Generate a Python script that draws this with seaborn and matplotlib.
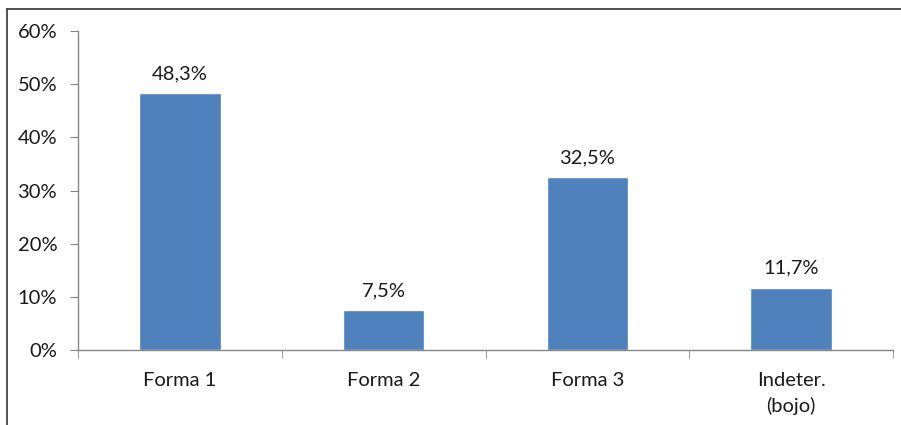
import matplotlib
matplotlib.use("Agg")
import matplotlib.pyplot as plt
import seaborn as sns
import pandas as pd
from matplotlib.lines import Line2D
from matplotlib.ticker import FuncFormatter, MultipleLocator

categories = ["Forma 1", "Forma 2", "Forma 3", "Indeter.\n(bojo)"]
values = [48.3, 7.5, 32.5, 11.7]
labels = ["48,3%", "7,5%", "32,5%", "11,7%"]

df = pd.DataFrame({"cat": categories, "val": values})

sns.set_style("white")
plt.rcParams["font.family"] = ["Lato", "DejaVu Sans"]

fig = plt.figure(figsize=(9.01, 4.25), dpi=100)
ax = fig.add_axes([78 / 901, 1 - 350 / 425, (893 - 78) / 901, (350 - 31) / 425])

sns.barplot(data=df, x="cat", y="val", color="#4F81BD", width=0.4,
            saturation=1, ax=ax)

axis_col = "#868686"
txt_col = "#1a1a1a"
fs = 14.5
ax.set_ylim(0, 60)
ax.set_xlim(-0.5, 3.5)
ax.yaxis.set_major_locator(MultipleLocator(10))
ax.yaxis.set_major_formatter(FuncFormatter(lambda v, p: f"{v:.0f}%"))
ax.set_xlabel("")
ax.set_ylabel("")

for s in ["top", "right"]:
    ax.spines[s].set_visible(False)
for s in ["left", "bottom"]:
    ax.spines[s].set_color(axis_col)
    ax.spines[s].set_linewidth(1)

ax.tick_params(axis="y", which="major", direction="out", length=6,
               color=axis_col, left=True, labelsize=fs, labelcolor=txt_col, pad=9)
ax.set_xticks(range(4))
ax.set_xticklabels(categories, linespacing=1.5)
ax.tick_params(axis="x", which="major", length=0, labelsize=fs,
               labelcolor=txt_col, pad=16)
ax.set_xticks([-0.5, 0.5, 1.5, 2.5, 3.5], minor=True)
ax.tick_params(axis="x", which="minor", direction="out", length=6,
               color=axis_col, bottom=True)

for i, (v, lab) in enumerate(zip(values, labels)):
    ax.annotate(lab, (i, v), xytext=(0, 8), textcoords="offset points",
                ha="center", va="bottom", fontsize=fs, color=txt_col)

# outer frame (left and top edges)
fig.add_artist(Line2D([7 / 901, 7 / 901], [0, 1 - 9 / 425], color="#333333", lw=1.2))
fig.add_artist(Line2D([7 / 901, 1], [1 - 9 / 425, 1 - 9 / 425], color="#333333", lw=1.2))

fig.savefig("out.png", dpi=100)
